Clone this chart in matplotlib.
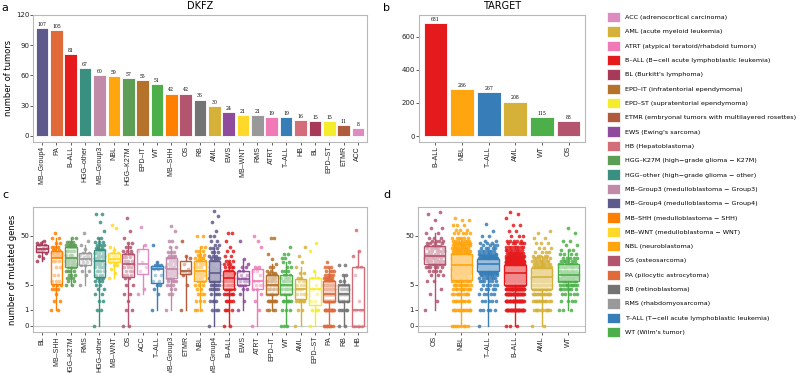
import numpy as np
import matplotlib.pyplot as plt
from matplotlib.patches import Patch

# colours per tumour type
colors = {
    "ACC": "#dc8cc0", "AML": "#d6b13a", "ATRT": "#f07ab5", "B-ALL": "#e41a1c",
    "BL": "#a63a58", "EPD-IT": "#b5722b", "EPD-ST": "#f5ec2b", "ETMR": "#b05c3c",
    "EWS": "#8f4c9c", "HB": "#d46d7a", "HGG-K27M": "#5c9e55", "HGG-other": "#3a9080",
    "MB-Group3": "#c08aa8", "MB-Group4": "#5f5a8c", "MB-SHH": "#ff7f00",
    "MB-WNT": "#ffd92a", "NBL": "#ffa50f", "OS": "#b3556f", "PA": "#e06a3a",
    "RB": "#737373", "RMS": "#999999", "T-ALL": "#377eb8", "WT": "#4daf4a",
}
legend_names = {
    "ACC": "adrenocortical carcinoma", "AML": "acute myeloid leukemia",
    "ATRT": "atypical teratoid/rhabdoid tumors",
    "B-ALL": "B\u2212cell acute lymphoblastic leukemia", "BL": "Burkitt's lymphoma",
    "EPD-IT": "infratentorial ependymoma", "EPD-ST": "supratentorial ependymoma",
    "ETMR": "embryonal tumors with multilayered rosettes", "EWS": "Ewing's sarcoma",
    "HB": "Hepatoblastoma", "HGG-K27M": "high\u2212grade glioma \u2212 K27M",
    "HGG-other": "high\u2212grade glioma \u2212 other",
    "MB-Group3": "medulloblastoma \u2212 Group3", "MB-Group4": "medulloblastoma \u2212 Group4",
    "MB-SHH": "medulloblastoma \u2212 SHH", "MB-WNT": "medulloblastoma \u2212 WNT",
    "NBL": "neuroblastoma", "OS": "osteosarcoma", "PA": "pilocytic astrocytoma",
    "RB": "retinoblastoma", "RMS": "rhabdomyosarcoma",
    "T-ALL": "T\u2212cell acute lymphoblastic leukemia", "WT": "Wilm's tumor",
}

dkfz_types = ["MB-Group4", "PA", "B-ALL", "HGG-other", "MB-Group3", "NBL", "HGG-K27M",
              "EPD-IT", "WT", "MB-SHH", "OS", "RB", "AML", "EWS", "MB-WNT", "RMS",
              "ATRT", "T-ALL", "HB", "BL", "EPD-ST", "ETMR", "ACC"]
dkfz_counts = [107, 105, 81, 67, 60, 59, 57, 55, 51, 42, 42, 36, 30, 24, 21, 21,
               19, 19, 16, 15, 15, 11, 8]
target_types = ["B-ALL", "NBL", "T-ALL", "AML", "WT", "OS"]
target_counts = [681, 286, 267, 208, 115, 88]

dkfz_box_order = ["BL", "MB-SHH", "HGG-K27M", "RMS", "HGG-other", "MB-WNT", "OS", "ACC",
                  "T-ALL", "MB-Group3", "ETMR", "NBL", "MB-Group4", "B-ALL", "EWS", "ATRT",
                  "EPD-IT", "WT", "AML", "EPD-ST", "PA", "RB", "HB"]
target_box_order = ["OS", "NBL", "T-ALL", "B-ALL", "AML", "WT"]

# number of mutated genes -> number of tumours
dkfz_mut = {
    "BL": {16: 1, 18: 1, 20: 1, 23: 1, 25: 2, 27: 2, 29: 2, 32: 2, 35: 2, 40: 1},
    "MB-SHH": {1: 2, 2: 2, 3: 1, 4: 3, 5: 3, 6: 3, 8: 2, 12: 2, 16: 3, 20: 5, 23: 5,
               26: 3, 30: 3, 35: 2, 45: 2, 56: 1},
    "HGG-K27M": {5: 2, 6: 2, 7: 3, 8: 3, 10: 4, 12: 4, 14: 5, 16: 5, 18: 5, 21: 3,
                 25: 4, 30: 5, 33: 6, 38: 4, 45: 2},
    "RMS": {5: 1, 8: 1, 10: 2, 13: 2, 15: 2, 17: 3, 19: 2, 21: 2, 23: 2, 27: 1, 32: 1,
            40: 1, 55: 1},
    "HGG-other": {0: 1, 1: 2, 2: 2, 3: 2, 4: 2, 5: 2, 6: 3, 7: 3, 8: 3, 10: 4, 12: 4,
                  14: 4, 16: 4, 18: 4, 20: 4, 23: 4, 26: 4, 29: 3, 33: 3, 38: 3, 45: 2,
                  60: 1, 90: 1, 130: 2},
    "MB-WNT": {7: 1, 9: 1, 11: 1, 13: 2, 15: 2, 16: 2, 17: 2, 19: 2, 21: 2, 23: 2,
               26: 1, 30: 1, 70: 1, 80: 1},
    "OS": {0: 2, 1: 2, 2: 1, 3: 2, 5: 2, 7: 2, 8: 3, 10: 3, 12: 3, 14: 3, 16: 3, 19: 3,
           22: 3, 25: 3, 30: 2, 35: 2, 45: 1, 60: 1, 110: 1},
    "ACC": {3: 1, 4: 1, 10: 1, 12: 1, 15: 1, 25: 1, 33: 1, 74: 1},
    "T-ALL": {1: 1, 3: 1, 4: 1, 5: 2, 6: 2, 8: 2, 11: 2, 12: 3, 13: 3, 15: 1, 33: 1},
    "MB-Group3": {1: 1, 3: 2, 4: 2, 5: 3, 6: 4, 7: 4, 8: 4, 9: 4, 10: 4, 11: 4, 12: 4,
                  14: 4, 16: 4, 18: 4, 20: 3, 24: 3, 30: 2, 40: 2, 60: 1, 75: 1},
    "ETMR": {1: 1, 5: 1, 8: 1, 9: 1, 10: 2, 11: 1, 14: 1, 18: 1, 20: 1, 40: 1},
    "NBL": {1: 3, 2: 3, 3: 3, 4: 2, 5: 3, 6: 3, 7: 4, 8: 4, 9: 4, 10: 4, 12: 4, 14: 4,
            16: 4, 18: 4, 21: 3, 25: 3, 30: 2, 50: 2},
    "MB-Group4": {0: 1, 1: 3, 2: 4, 3: 4, 4: 5, 5: 6, 6: 7, 7: 8, 8: 8, 9: 8, 10: 7,
                  11: 6, 12: 6, 14: 6, 16: 5, 18: 4, 20: 3, 24: 3, 28: 3, 33: 2, 40: 2,
                  50: 2, 60: 1, 90: 1, 120: 1, 150: 1},
    "B-ALL": {0: 2, 1: 4, 2: 5, 3: 6, 4: 7, 5: 7, 6: 7, 7: 7, 8: 7, 9: 6, 10: 5, 12: 4,
              14: 3, 16: 3, 20: 2, 25: 2, 30: 1, 40: 1, 55: 2},
    "EWS": {1: 1, 2: 1, 3: 1, 4: 2, 5: 3, 6: 4, 7: 3, 8: 2, 10: 2, 12: 2, 14: 1, 17: 1,
            40: 1},
    "ATRT": {0: 1, 1: 1, 2: 1, 3: 1, 4: 2, 5: 3, 6: 2, 8: 1, 10: 2, 12: 2, 30: 1, 40: 1,
             50: 1},
    "EPD-IT": {1: 4, 2: 8, 3: 6, 4: 6, 5: 6, 6: 5, 7: 4, 8: 4, 9: 3, 10: 2, 12: 2, 14: 1,
               17: 1, 22: 1, 45: 2},
    "WT": {0: 3, 1: 3, 2: 6, 3: 5, 4: 6, 5: 5, 6: 4, 7: 4, 8: 3, 10: 3, 12: 2, 15: 2,
           18: 2, 22: 2, 30: 1},
    "AML": {0: 1, 1: 2, 2: 5, 3: 4, 4: 4, 5: 3, 6: 3, 7: 2, 9: 2, 12: 1, 15: 1, 20: 1,
            30: 1},
    "EPD-ST": {0: 1, 1: 3, 2: 2, 3: 1, 4: 2, 5: 1, 7: 2, 10: 1, 25: 1, 35: 1},
    "PA": {0: 8, 1: 12, 2: 15, 3: 18, 4: 14, 5: 10, 6: 8, 7: 7, 8: 5, 10: 4, 12: 3, 15: 1},
    "RB": {0: 2, 1: 5, 2: 7, 3: 7, 4: 5, 5: 4, 6: 2, 8: 2, 13: 2},
    "HB": {0: 5, 1: 4, 2: 1, 8: 1, 12: 2, 20: 1, 25: 1, 64: 1},
}
target_mut = {
    "OS": {1: 1, 2: 1, 3: 1, 4: 1, 6: 2, 8: 3, 10: 4, 12: 6, 14: 7, 16: 7, 18: 7, 20: 7,
           22: 6, 25: 6, 28: 6, 31: 5, 35: 4, 40: 4, 45: 3, 55: 2, 70: 2, 100: 1, 130: 1,
           140: 1},
    "NBL": {0: 8, 1: 14, 2: 10, 3: 10, 4: 10, 5: 10, 6: 10, 7: 10, 8: 10, 9: 10, 10: 12,
            11: 12, 12: 12, 13: 12, 14: 12, 16: 14, 18: 14, 20: 14, 22: 13, 25: 12, 28: 12,
            32: 10, 36: 8, 40: 7, 45: 6, 55: 5, 65: 3, 80: 3, 100: 2, 110: 1},
    "T-ALL": {0: 1, 1: 5, 2: 5, 3: 5, 4: 5, 5: 5, 6: 6, 7: 7, 8: 8, 9: 10, 10: 14, 11: 18,
              12: 20, 13: 22, 14: 22, 15: 20, 16: 18, 17: 16, 18: 14, 20: 12, 22: 9, 25: 7,
              28: 5, 32: 4, 36: 3, 40: 2, 50: 2, 60: 1, 85: 1},
    "B-ALL": {0: 3, 1: 29, 2: 30, 3: 33, 4: 38, 5: 42, 6: 47, 7: 45, 8: 45, 9: 45, 10: 45,
              11: 44, 12: 42, 13: 36, 14: 30, 15: 25, 16: 20, 18: 18, 20: 15, 23: 12,
              26: 8, 30: 8, 35: 6, 40: 5, 50: 3, 60: 2, 80: 2, 110: 1, 130: 1, 140: 1},
    "AML": {0: 2, 1: 10, 2: 12, 3: 14, 4: 16, 5: 17, 6: 17, 7: 16, 8: 15, 9: 14, 10: 12,
            11: 11, 12: 10, 14: 9, 16: 8, 18: 6, 20: 5, 24: 4, 28: 3, 35: 3, 45: 2, 55: 1,
            60: 1},
    "WT": {1: 3, 2: 4, 3: 5, 4: 7, 5: 9, 6: 10, 7: 11, 8: 10, 9: 9, 10: 8, 12: 8, 14: 7,
           16: 6, 18: 5, 22: 4, 26: 3, 32: 2, 40: 2, 55: 1, 70: 1},
}


def expand(vc):
    return np.repeat(list(vc.keys()), list(vc.values())).astype(float)


def lab(s):
    return s.replace("-", "\u2013")


spine_col = "#b8b8b8"
tick_font = "Liberation Sans"


def style(ax):
    for sp in ax.spines.values():
        sp.set_color(spine_col)
        sp.set_linewidth(0.8)
    ax.tick_params(length=2.0, width=0.6, color="#444444", labelsize=5, pad=0.8,
                   labelcolor="#222222")


def bars(ax, types, counts, width, ylim, yticks):
    x = np.arange(len(types))
    b = ax.bar(x, counts, width=width, color=[colors[t] for t in types],
               edgecolor="white", linewidth=0.6)
    ax.bar_label(b, padding=0.8, fontsize=3.3, family="DejaVu Serif")
    ax.set_xticks(x)
    ax.set_xticklabels([lab(t) for t in types], rotation=90, fontsize=4.8,
                       family=tick_font)
    ax.set_xlim(-0.63, len(types) - 0.37)
    ax.set_ylim(*ylim)
    ax.set_yticks(yticks)
    style(ax)


def fwd(y):
    return np.log1p(np.maximum(y, -0.99))


def boxes(ax, order, mut):
    for i, t in enumerate(order):
        c = colors[t]
        vals = expand(mut[t])
        n = len(vals)
        off = ((np.arange(n) * 0.6180339) % 1 - 0.5) * 0.7
        ax.scatter(i + off, vals, s=7, color=c, alpha=0.85, linewidths=0, zorder=2)
        ax.boxplot([vals], positions=[i], widths=0.8, patch_artist=True,
                   showfliers=False, showcaps=False, zorder=3,
                   boxprops=dict(facecolor=(1, 1, 1, 0.5), edgecolor=c, linewidth=1),
                   medianprops=dict(color=c, linewidth=1.2),
                   whiskerprops=dict(color=c, linewidth=1))
    ax.axhline(0, color="#cccccc", lw=0.8, zorder=1)
    ax.set_yscale("function", functions=(fwd, np.expm1))
    ax.set_ylim(-0.24, 178)
    ax.set_yticks([0, 1, 5, 50])
    ax.set_yticklabels(["0", "1", "5", "50"])
    ax.minorticks_off()
    ax.set_xticks(np.arange(len(order)))
    ax.set_xticklabels([lab(t) for t in order], rotation=90, fontsize=4.1,
                       family=tick_font)
    ax.set_xlim(-0.63, len(order) - 0.37)
    style(ax)


fig = plt.figure(figsize=(8, 3.73), dpi=100)
H = 373.0
ax_a = fig.add_axes([33 / 800, 1 - 142 / H, 334 / 800, 127.3 / H])
ax_b = fig.add_axes([419 / 800, 1 - 142 / H, 166 / 800, 127.3 / H])
ax_c = fig.add_axes([33 / 800, 1 - 332 / H, 334 / 800, 125.3 / H])
ax_d = fig.add_axes([418 / 800, 1 - 332 / H, 167 / 800, 125.3 / H])

bars(ax_a, dkfz_types, dkfz_counts, 0.88, (-6, 120), [0, 30, 60, 90, 120])
ax_a.set_ylabel("number of tumors", fontsize=6, labelpad=2)
ax_a.set_title("DKFZ", fontsize=7, pad=4)

bars(ax_b, target_types, target_counts, 0.9, (-36, 733), [0, 200, 400, 600])
ax_b.set_xlim(-0.62, 5.62)
ax_b.set_title("TARGET", fontsize=7, pad=4)

boxes(ax_c, dkfz_box_order, dkfz_mut)
ax_c.set_ylabel("number of mutated genes", fontsize=6, labelpad=2)
boxes(ax_d, target_box_order, target_mut)
ax_d.set_xlim(-0.62, 5.62)

for txt, x, y in [("a", 5, 8), ("b", 387, 8), ("c", 5, 195), ("d", 387, 195)]:
    fig.text(x / 800, 1 - y / H, txt, fontsize=8, ha="center", va="center")

handles = [Patch(facecolor=colors[t], edgecolor="white", linewidth=0.5)
           for t in sorted(colors)]
labels = ["%s (%s)" % (lab(t), legend_names[t]) for t in sorted(colors)]
fig.legend(handles, labels, loc="upper left", bbox_to_anchor=(607 / 800, 1 - 12 / H),
           frameon=False, fontsize=4.6, handlelength=2.05, handleheight=2.1,
           labelspacing=0.63, handletextpad=0.7, borderpad=0, borderaxespad=0)

fig.savefig("out.png", dpi=100)
